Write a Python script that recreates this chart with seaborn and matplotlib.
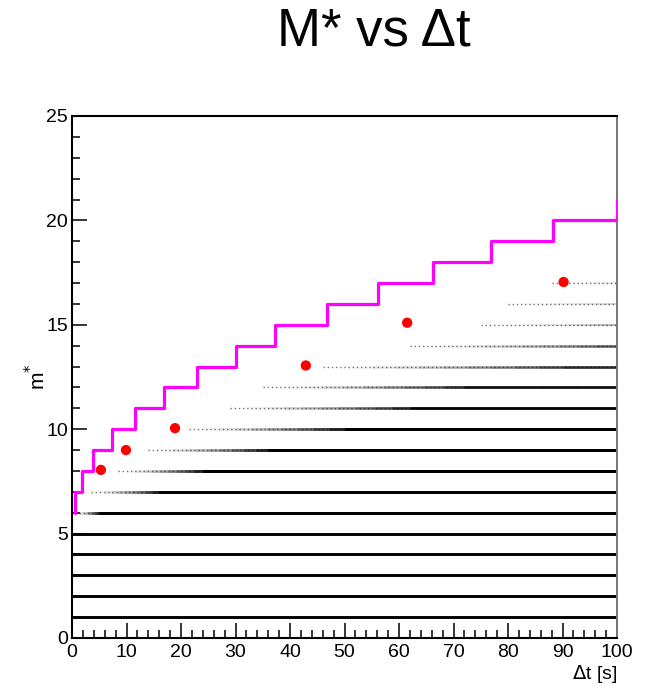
import numpy as np
import pandas as pd
import matplotlib
matplotlib.use("Agg")
import matplotlib.pyplot as plt
import seaborn as sns
from matplotlib.ticker import MultipleLocator

# Multiplicity bands of the event scatter: where each band first shows up,
# where it becomes fully populated, and how dark it gets at the end of the range
mult_levels = list(range(1, 18))
first_seen = [0, 0, 0, 0, 0, 0.5, 3.5, 8.5, 14, 21.5, 29, 35, 46, 62, 75, 80, 88]
dense_from = [0, 0, 0, 0, 0, 5, 16, 24, 36, 50, 62, 72, 90, 100, 100, 100, 100]
end_density = [1, 1, 1, 1, 1, 1, 1, 1, 1, 1, 0.97, 0.92, 0.8, 0.6, 0.32, 0.18, 0.1]

# Upper envelope M*(dt) as a step function
step_dt = [0.55, 0.55, 1.8, 3.9, 7.3, 11.6, 16.8, 22.9, 30.1, 37.2, 46.8,
           56.1, 66.2, 76.8, 88.2, 100]
step_m = [6, 7, 8, 9, 10, 11, 12, 13, 14, 15, 16, 17, 18, 19, 20, 21]

# Reference points
point_dt = [5.3, 9.9, 18.9, 42.9, 61.5, 90.2]
point_m = [8.05, 9.0, 10.05, 13.05, 15.1, 17.05]

sns.set_style("white")
plt.rcParams['font.family'] = ['Liberation Sans', 'DejaVu Sans']
plt.rcParams['text.color'] = 'black'
plt.rcParams['axes.labelcolor'] = 'black'
plt.rcParams['xtick.color'] = 'black'
plt.rcParams['ytick.color'] = 'black'

fig = plt.figure(figsize=(6.45, 6.89), dpi=100)
ax = fig.add_axes([72 / 645, 1 - 638 / 689, 545 / 645, 522 / 689])

# Scatter bands: a faint stippled start, then stacked translucent strokes that
# build up the density along dt
n_layers = 10
for m, x0, x1, peak in zip(mult_levels, first_seen, dense_from, end_density):
    lw = 2.1 if m <= 10 else 1.8
    if x1 > x0:
        ax.plot([x0, 100], [m, m], color="black", lw=1.0, alpha=0.55,
                linestyle=(0, (1.0, 2.0)), solid_capstyle="butt", zorder=2)
        end = x1 if x1 < 100 else 100 - 0.1 * (100 - x0)
        frac = np.arange(1, n_layers + 1) / n_layers
        starts = x0 + (end - x0) * frac
        target = min(peak, 0.985) * frac ** 1.4
        prev = np.concatenate([[0.0], target[:-1]])
        alphas = 1 - (1 - target) / (1 - prev)
        for s, a in zip(starts, alphas):
            ax.plot([s, 100], [m, m], color="black", lw=lw * (0.6 if peak < 0.5 else 1.0),
                    alpha=float(a), solid_capstyle="butt", zorder=2)
    if peak >= 1:
        ax.plot([x1, 100], [m, m], color="black", lw=lw, solid_capstyle="butt", zorder=2)

step_df = pd.DataFrame({"dt": step_dt, "m": step_m})
sns.lineplot(data=step_df, x="dt", y="m", estimator=None, sort=False,
             drawstyle="steps-post", color="#ff00ff", linewidth=2.3, ax=ax, zorder=3)

pts_df = pd.DataFrame({"dt": point_dt, "m": point_m})
sns.scatterplot(data=pts_df, x="dt", y="m", color="#ff0000", s=55,
                edgecolor="none", ax=ax, zorder=4)

ax.set_xlim(0, 100)
ax.set_ylim(0, 25)
ax.xaxis.set_major_locator(MultipleLocator(10))
ax.xaxis.set_minor_locator(MultipleLocator(2))
ax.yaxis.set_major_locator(MultipleLocator(5))
ax.yaxis.set_minor_locator(MultipleLocator(1))
ax.tick_params(which="both", direction="in", bottom=True, left=True,
               top=False, right=False, labelsize=14, width=1.1, color="black")
ax.tick_params(which="major", length=11)
ax.tick_params(which="minor", length=5.5)
ax.tick_params(axis="x", pad=4)
ax.tick_params(axis="y", pad=3)

for side in ["left", "bottom", "top"]:
    ax.spines[side].set_color("black")
    ax.spines[side].set_linewidth(1.5)
ax.spines["right"].set_color("#777777")
ax.spines["right"].set_linewidth(1.4)

ax.set_xlabel(r"$\Delta$t [s]", fontsize=14, loc="right", labelpad=2)
ax.set_ylabel(r"m$^{*}$", fontsize=15, labelpad=-2)

fig.text(374 / 645, 1 - 31 / 689, "M* vs Δt", fontsize=38,
         ha="center", va="center")

fig.savefig("out.png", dpi=100)
